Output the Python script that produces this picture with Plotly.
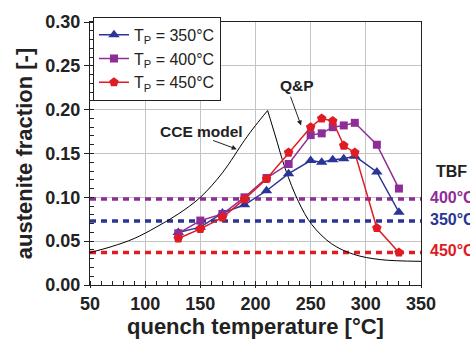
import plotly.graph_objects as go

# quench temperatures (°C)
T_Q = [130, 150, 170, 190, 210, 230, 250, 260, 270, 280, 290, 310, 330]
aus_350 = [0.060, 0.066, 0.082, 0.0915, 0.1075, 0.127, 0.142, 0.140, 0.143, 0.144, 0.147, 0.129, 0.083]
aus_400 = [0.059, 0.0735, 0.081, 0.100, 0.122, 0.138, 0.171, 0.173, 0.180, 0.182, 0.185, 0.160, 0.110]
aus_450 = [0.053, 0.064, 0.077, 0.098, 0.121, 0.151, 0.180, 0.190, 0.187, 0.159, 0.151, 0.065, 0.037]

# CCE model curve (rising and falling branches)
cce_rise_x = [50, 70, 90, 110, 130, 150, 170, 190, 200, 211]
cce_rise_y = [0.037, 0.044, 0.053, 0.066, 0.081, 0.100, 0.128, 0.165, 0.182, 0.199]
cce_fall_x = [211, 218, 227, 239, 251, 269, 289, 313, 350]
cce_fall_y = [0.199, 0.170, 0.1325, 0.095, 0.069, 0.047, 0.035, 0.029, 0.027]

# TBF reference levels
tbf_labels = ["400°C", "350°C", "450°C"]
tbf_values = [0.098, 0.073, 0.037]

x_ticks = [50, 100, 150, 200, 250, 300, 350]
y_ticks = [0.00, 0.05, 0.10, 0.15, 0.20, 0.25, 0.30]

BLUE = "#2a3596"
PURPLE = "#8e2d96"
RED = "#e01b24"
tbf_colors = [PURPLE, BLUE, RED]

FONT = "Liberation Sans, Arial, sans-serif"

fig = go.Figure()

# TBF dotted lines
for lab, val, col in zip(tbf_labels, tbf_values, tbf_colors):
    fig.add_trace(go.Scatter(x=[50, 350], y=[val, val], mode="lines",
                             line=dict(color=col, width=3.5, dash="6px,5px"),
                             showlegend=False, hoverinfo="skip"))

# CCE model
fig.add_trace(go.Scatter(x=cce_rise_x, y=cce_rise_y, mode="lines",
                         line=dict(color="black", width=1, shape="spline"),
                         showlegend=False))
fig.add_trace(go.Scatter(x=cce_fall_x, y=cce_fall_y, mode="lines",
                         line=dict(color="black", width=1, shape="spline"),
                         showlegend=False))

series = [
    ("T<sub>P</sub> = 350°C", aus_350, BLUE, "triangle-up", 10),
    ("T<sub>P</sub> = 400°C", aus_400, PURPLE, "square", 8),
    ("T<sub>P</sub> = 450°C", aus_450, RED, "pentagon", 10),
]
for name, ys, col, sym, sz in series:
    fig.add_trace(go.Scatter(x=T_Q, y=ys, mode="lines+markers", name=name,
                             line=dict(color=col, width=1.5),
                             marker=dict(symbol=sym, size=sz, color=col)))

annotations = [
    dict(x=151.5, y=0.1747, xref="x", yref="y", text="<b>CCE model</b>",
         showarrow=False, font=dict(size=15.5, color="#222", family=FONT)),
    dict(x=183, y=0.1549, ax=160.2, ay=0.1655, xref="x", yref="y", axref="x", ayref="y",
         text="", showarrow=True, arrowhead=2, arrowsize=1, arrowwidth=1, arrowcolor="#222"),
    dict(x=237.5, y=0.2277, xref="x", yref="y", text="<b>Q&P</b>",
         showarrow=False, font=dict(size=15.5, color="#222", family=FONT)),
    dict(x=241.3, y=0.182, ax=231.3, ay=0.2165, xref="x", yref="y", axref="x", ayref="y",
         text="", showarrow=True, arrowhead=2, arrowsize=1, arrowwidth=1, arrowcolor="#222"),
    dict(x=1.04, y=0.129, xref="paper", yref="y", text="<b>TBF</b>", xanchor="left",
         showarrow=False, font=dict(size=16, color="#222", family=FONT)),
    dict(x=0.5, y=-0.158, xref="paper", yref="paper", text="<b>quench temperature [°C]</b>",
         xanchor="center", yanchor="middle", showarrow=False,
         font=dict(size=22, color="#222", family=FONT)),
]
for lab, val, col in zip(tbf_labels, tbf_values, tbf_colors):
    annotations.append(dict(x=1.022, y=val + 0.002, xref="paper", yref="y", text="<b>%s</b>" % lab,
                            xanchor="left", showarrow=False,
                            font=dict(size=16, color=col, family=FONT)))

fig.update_layout(
    width=470, height=348,
    margin=dict(l=90, r=49, t=17, b=63),
    paper_bgcolor="white", plot_bgcolor="white",
    font=dict(family=FONT, color="#222"),
    annotations=annotations,
    legend=dict(x=0.009, y=1.02, xanchor="left", yanchor="top",
                bgcolor="white", bordercolor="#222", borderwidth=1,
                font=dict(size=16, family=FONT, color="#222"),
                itemwidth=30, tracegroupgap=0),
    xaxis=dict(range=[50, 350], tickvals=x_ticks, ticktext=[str(v) for v in x_ticks],
               showgrid=True, gridcolor="#c4c4c4", gridwidth=1,
               showline=True, linecolor="#222", linewidth=1, mirror=True,
               ticks="outside", ticklen=2, tickcolor="#222",
               minor=dict(dtick=10, ticks="inside", ticklen=4, tickcolor="#222", showgrid=False),
               tickfont=dict(size=18, family=FONT, color="#222", weight="bold"),
               zeroline=False),
    yaxis=dict(range=[0, 0.30], tickvals=y_ticks, ticktext=["%.2f" % v for v in y_ticks],
               showgrid=True, gridcolor="#c4c4c4", gridwidth=1,
               showline=True, linecolor="#222", linewidth=1, mirror=True,
               ticks="outside", ticklen=5, tickcolor="#222",
               minor=dict(dtick=0.01, ticks="inside", ticklen=4, tickcolor="#222", showgrid=False),
               tickfont=dict(size=18, family=FONT, color="#222", weight="bold"),
               title=dict(text="<b>austenite fraction [-]</b>", standoff=6,
                          font=dict(size=22, family=FONT, color="#222")),
               zeroline=False),
)

fig.write_html("out.html")
